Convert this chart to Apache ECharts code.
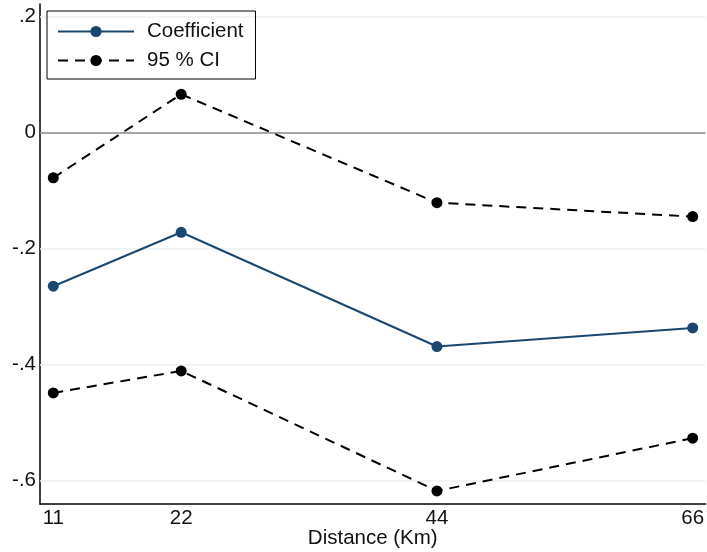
<!DOCTYPE html>
<html>
<head>
<meta charset="utf-8">
<script src="https://cdn.jsdelivr.net/npm/echarts@6/dist/echarts.min.js"></script>
<style>html,body{margin:0;padding:0;background:#fff}#c{width:707px;height:552px}</style>
</head>
<body>
<div id="c"></div>
<script>
var distances = [11, 22, 44, 66];
var coefficient = [-0.265, -0.172, -0.369, -0.337];
var ciUpper = [-0.078, 0.066, -0.121, -0.145];
var ciLower = [-0.449, -0.411, -0.618, -0.527];
var yTicks = [0.2, 0, -0.2, -0.4, -0.6];
var yTickLabels = ['.2', '0', '-.2', '-.4', '-.6'];
var xTicks = [11, 22, 44, 66];

function pairs(xs, ys) { return xs.map(function (x, i) { return [x, ys[i]]; }); }

var font = 'Liberation Sans, Arial, sans-serif';
var fs = 20.5;
var chart = echarts.init(document.getElementById('c'), null, { renderer: 'canvas' });

var gridLines = yTicks.filter(function (v) { return v !== 0; }).map(function (v) {
  return { yAxis: v, lineStyle: { color: '#eaf2f3', width: 1.5, type: 'solid' } };
});
gridLines.push({ yAxis: 0, lineStyle: { color: '#8a8a8a', width: 1.5, type: 'solid' } });

chart.setOption({
  animation: false,
  textStyle: { fontFamily: font },
  grid: { left: 40, top: 4, right: 1.5, bottom: 48, outerBoundsMode: 'none', containLabel: false },
  xAxis: {
    type: 'value', min: 9.856, max: 67.1,
    name: 'Distance (Km)', nameLocation: 'middle', nameGap: 24, nameMoveOverlap: false,
    nameTextStyle: { fontSize: fs, color: '#111', fontFamily: font },
    axisLine: { show: true, onZero: false, lineStyle: { color: '#000', width: 1.5 } },
    axisTick: { show: false },
    splitLine: { show: false },
    axisLabel: { customValues: xTicks, fontSize: fs, color: '#111', margin: 4, fontFamily: font,
      formatter: function (v) { return String(v); } }
  },
  yAxis: {
    type: 'value', min: -0.6405, max: 0.2216,
    axisLine: { show: true, onZero: false, lineStyle: { color: '#000', width: 1.5 } },
    axisTick: { show: false },
    splitLine: { show: false },
    axisLabel: { customValues: yTicks, fontSize: fs, color: '#111', margin: 4, fontFamily: font,
      formatter: function (v) {
        for (var i = 0; i < yTicks.length; i++) if (Math.abs(v - yTicks[i]) < 1e-9) return yTickLabels[i];
        return '';
      } }
  },
  legend: {
    orient: 'vertical', left: 47, top: 11,
    borderColor: '#000', borderWidth: 1, padding: [10, 12, 8, 10],
    itemWidth: 76, itemHeight: 14, itemGap: 8,
    textStyle: { fontSize: fs, color: '#111', fontFamily: font, padding: [0, 0, 0, 8] },
    data: ['Coefficient', '95 % CI']
  },
  series: [
    {
      name: '__grid', type: 'line', data: [], silent: true,
      markLine: { silent: true, symbol: 'none', label: { show: false }, data: gridLines, z: 1 }
    },
    {
      name: 'Coefficient', type: 'line', data: pairs(distances, coefficient),
      symbol: 'circle', symbolSize: 11, z: 3,
      lineStyle: { color: '#1a476f', width: 2 },
      itemStyle: { color: '#1a476f' }
    },
    {
      name: '95 % CI', type: 'line', data: pairs(distances, ciUpper),
      symbol: 'circle', symbolSize: 11, z: 3,
      lineStyle: { color: '#000', width: 2, type: [10, 7] },
      itemStyle: { color: '#000' }
    },
    {
      name: '95 % CI', type: 'line', data: pairs(distances, ciLower),
      symbol: 'circle', symbolSize: 11, z: 3,
      lineStyle: { color: '#000', width: 2, type: [10, 7] },
      itemStyle: { color: '#000' }
    }
  ]
});
</script>
</body>
</html>
